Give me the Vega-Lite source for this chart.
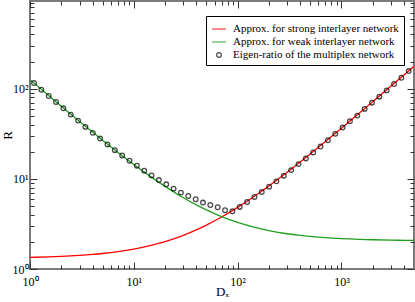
{
  "$schema": "https://vega.github.io/schema/vega-lite/v6.json",
  "autosize": {"type": "none"},
  "width": 384,
  "height": 268,
  "padding": {"left": 30, "top": 1, "right": 1, "bottom": 33},
  "background": "white",
  "config": {
    "view": {"stroke": "#7a7a7a", "strokeWidth": 2},
    "axis": {
      "grid": false,
      "domain": false,
      "labelFont": "Liberation Serif",
      "labelFontSize": 12,
      "labelColor": "black",
      "titleFont": "Liberation Serif",
      "titleFontSize": 13,
      "titleFontWeight": "normal",
      "titleColor": "black",
      "tickColor": "#333333",
      "tickWidth": 1,
      "labelOverlap": false,
      "labelFlush": false
    },
    "legend": {
      "orient": "none",
      "legendX": 176,
      "legendY": 15,
      "title": null,
      "labelFont": "Liberation Serif",
      "labelFontSize": 11,
      "labelColor": "black",
      "labelLimit": 400,
      "strokeColor": "black",
      "fillColor": "white",
      "padding": 5,
      "symbolSize": 196,
      "symbolStrokeWidth": 1.3,
      "labelOffset": 6,
      "rowPadding": 0
    }
  },
  "datasets": {
    "lines": [
      {"D": 1, "R": 1.345, "series": "Approx. for strong interlayer network"},
      {"D": 1.5, "R": 1.363, "series": "Approx. for strong interlayer network"},
      {"D": 2, "R": 1.38, "series": "Approx. for strong interlayer network"},
      {"D": 3, "R": 1.416, "series": "Approx. for strong interlayer network"},
      {"D": 4, "R": 1.451, "series": "Approx. for strong interlayer network"},
      {"D": 5, "R": 1.486, "series": "Approx. for strong interlayer network"},
      {"D": 7, "R": 1.556, "series": "Approx. for strong interlayer network"},
      {"D": 10, "R": 1.662, "series": "Approx. for strong interlayer network"},
      {"D": 15, "R": 1.838, "series": "Approx. for strong interlayer network"},
      {"D": 20, "R": 2.014, "series": "Approx. for strong interlayer network"},
      {"D": 30, "R": 2.366, "series": "Approx. for strong interlayer network"},
      {"D": 40, "R": 2.718, "series": "Approx. for strong interlayer network"},
      {"D": 50, "R": 3.07, "series": "Approx. for strong interlayer network"},
      {"D": 70, "R": 3.774, "series": "Approx. for strong interlayer network"},
      {"D": 100, "R": 4.83, "series": "Approx. for strong interlayer network"},
      {"D": 150, "R": 6.59, "series": "Approx. for strong interlayer network"},
      {"D": 200, "R": 8.35, "series": "Approx. for strong interlayer network"},
      {"D": 300, "R": 11.87, "series": "Approx. for strong interlayer network"},
      {"D": 400, "R": 15.39, "series": "Approx. for strong interlayer network"},
      {"D": 500, "R": 18.91, "series": "Approx. for strong interlayer network"},
      {"D": 700, "R": 25.95, "series": "Approx. for strong interlayer network"},
      {"D": 1000, "R": 36.51, "series": "Approx. for strong interlayer network"},
      {"D": 1500, "R": 54.11, "series": "Approx. for strong interlayer network"},
      {"D": 2000, "R": 71.71, "series": "Approx. for strong interlayer network"},
      {"D": 3000, "R": 106.9, "series": "Approx. for strong interlayer network"},
      {"D": 4000, "R": 142.1, "series": "Approx. for strong interlayer network"},
      {"D": 5000, "R": 177.3, "series": "Approx. for strong interlayer network"},
      {"D": 1, "R": 126.05, "series": "Approx. for weak interlayer network"},
      {"D": 1.5, "R": 84.72, "series": "Approx. for weak interlayer network"},
      {"D": 2, "R": 64.05, "series": "Approx. for weak interlayer network"},
      {"D": 3, "R": 43.38, "series": "Approx. for weak interlayer network"},
      {"D": 4, "R": 33.05, "series": "Approx. for weak interlayer network"},
      {"D": 5, "R": 26.85, "series": "Approx. for weak interlayer network"},
      {"D": 7, "R": 19.76, "series": "Approx. for weak interlayer network"},
      {"D": 10, "R": 14.45, "series": "Approx. for weak interlayer network"},
      {"D": 15, "R": 10.32, "series": "Approx. for weak interlayer network"},
      {"D": 20, "R": 8.25, "series": "Approx. for weak interlayer network"},
      {"D": 30, "R": 6.18, "series": "Approx. for weak interlayer network"},
      {"D": 40, "R": 5.15, "series": "Approx. for weak interlayer network"},
      {"D": 50, "R": 4.53, "series": "Approx. for weak interlayer network"},
      {"D": 70, "R": 3.82, "series": "Approx. for weak interlayer network"},
      {"D": 100, "R": 3.29, "series": "Approx. for weak interlayer network"},
      {"D": 150, "R": 2.88, "series": "Approx. for weak interlayer network"},
      {"D": 200, "R": 2.67, "series": "Approx. for weak interlayer network"},
      {"D": 300, "R": 2.46, "series": "Approx. for weak interlayer network"},
      {"D": 400, "R": 2.36, "series": "Approx. for weak interlayer network"},
      {"D": 500, "R": 2.3, "series": "Approx. for weak interlayer network"},
      {"D": 700, "R": 2.227, "series": "Approx. for weak interlayer network"},
      {"D": 1000, "R": 2.174, "series": "Approx. for weak interlayer network"},
      {"D": 1500, "R": 2.133, "series": "Approx. for weak interlayer network"},
      {"D": 2000, "R": 2.112, "series": "Approx. for weak interlayer network"},
      {"D": 3000, "R": 2.091, "series": "Approx. for weak interlayer network"},
      {"D": 4000, "R": 2.081, "series": "Approx. for weak interlayer network"},
      {"D": 5000, "R": 2.075, "series": "Approx. for weak interlayer network"}
    ],
    "points": [
      {"D": 1.093, "R": 115.6, "series": "Eigen-ratio of the multiplex network"},
      {"D": 1.286, "R": 97.5, "series": "Eigen-ratio of the multiplex network"},
      {"D": 1.514, "R": 83.0, "series": "Eigen-ratio of the multiplex network"},
      {"D": 1.782, "R": 71.3, "series": "Eigen-ratio of the multiplex network"},
      {"D": 2.097, "R": 60.6, "series": "Eigen-ratio of the multiplex network"},
      {"D": 2.469, "R": 51.6, "series": "Eigen-ratio of the multiplex network"},
      {"D": 2.906, "R": 44.3, "series": "Eigen-ratio of the multiplex network"},
      {"D": 3.42, "R": 37.7, "series": "Eigen-ratio of the multiplex network"},
      {"D": 4.025, "R": 32.4, "series": "Eigen-ratio of the multiplex network"},
      {"D": 4.737, "R": 28.0, "series": "Eigen-ratio of the multiplex network"},
      {"D": 5.577, "R": 24.1, "series": "Eigen-ratio of the multiplex network"},
      {"D": 6.564, "R": 20.8, "series": "Eigen-ratio of the multiplex network"},
      {"D": 7.726, "R": 18.2, "series": "Eigen-ratio of the multiplex network"},
      {"D": 9.092, "R": 15.9, "series": "Eigen-ratio of the multiplex network"},
      {"D": 10.7, "R": 14.0, "series": "Eigen-ratio of the multiplex network"},
      {"D": 12.6, "R": 12.32, "series": "Eigen-ratio of the multiplex network"},
      {"D": 14.83, "R": 10.93, "series": "Eigen-ratio of the multiplex network"},
      {"D": 17.45, "R": 9.7, "series": "Eigen-ratio of the multiplex network"},
      {"D": 20.54, "R": 8.7, "series": "Eigen-ratio of the multiplex network"},
      {"D": 24.17, "R": 7.79, "series": "Eigen-ratio of the multiplex network"},
      {"D": 28.44, "R": 7.04, "series": "Eigen-ratio of the multiplex network"},
      {"D": 33.48, "R": 6.45, "series": "Eigen-ratio of the multiplex network"},
      {"D": 39.41, "R": 5.94, "series": "Eigen-ratio of the multiplex network"},
      {"D": 46.39, "R": 5.46, "series": "Eigen-ratio of the multiplex network"},
      {"D": 54.59, "R": 5.13, "series": "Eigen-ratio of the multiplex network"},
      {"D": 64.26, "R": 4.84, "series": "Eigen-ratio of the multiplex network"},
      {"D": 75.63, "R": 4.49, "series": "Eigen-ratio of the multiplex network"},
      {"D": 89.03, "R": 4.37, "series": "Eigen-ratio of the multiplex network"},
      {"D": 104.8, "R": 4.88, "series": "Eigen-ratio of the multiplex network"},
      {"D": 123.3, "R": 5.54, "series": "Eigen-ratio of the multiplex network"},
      {"D": 145.2, "R": 6.29, "series": "Eigen-ratio of the multiplex network"},
      {"D": 170.8, "R": 7.15, "series": "Eigen-ratio of the multiplex network"},
      {"D": 201.1, "R": 8.2, "series": "Eigen-ratio of the multiplex network"},
      {"D": 236.6, "R": 9.38, "series": "Eigen-ratio of the multiplex network"},
      {"D": 278.5, "R": 10.85, "series": "Eigen-ratio of the multiplex network"},
      {"D": 327.9, "R": 12.51, "series": "Eigen-ratio of the multiplex network"},
      {"D": 385.8, "R": 14.57, "series": "Eigen-ratio of the multiplex network"},
      {"D": 454.1, "R": 16.85, "series": "Eigen-ratio of the multiplex network"},
      {"D": 534.6, "R": 19.63, "series": "Eigen-ratio of the multiplex network"},
      {"D": 629.2, "R": 22.87, "series": "Eigen-ratio of the multiplex network"},
      {"D": 740.5, "R": 26.84, "series": "Eigen-ratio of the multiplex network"},
      {"D": 871.6, "R": 31.57, "series": "Eigen-ratio of the multiplex network"},
      {"D": 1026, "R": 37.07, "series": "Eigen-ratio of the multiplex network"},
      {"D": 1207, "R": 43.52, "series": "Eigen-ratio of the multiplex network"},
      {"D": 1421, "R": 50.3, "series": "Eigen-ratio of the multiplex network"},
      {"D": 1673, "R": 59.67, "series": "Eigen-ratio of the multiplex network"},
      {"D": 1969, "R": 70.02, "series": "Eigen-ratio of the multiplex network"},
      {"D": 2317, "R": 81.56, "series": "Eigen-ratio of the multiplex network"},
      {"D": 2727, "R": 95.76, "series": "Eigen-ratio of the multiplex network"},
      {"D": 3210, "R": 112.7, "series": "Eigen-ratio of the multiplex network"},
      {"D": 3778, "R": 132.3, "series": "Eigen-ratio of the multiplex network"},
      {"D": 4447, "R": 156.9, "series": "Eigen-ratio of the multiplex network"}
    ]
  },
  "layer": [
    {
      "data": {"name": "lines"},
      "mark": {"type": "line", "strokeWidth": 1.3, "interpolate": "monotone", "clip": true},
      "encoding": {
        "x": {
          "field": "D", "type": "quantitative",
          "scale": {"type": "log", "domain": [1, 5000], "nice": false},
          "axis": {
            "orient": "bottom",
            "title": "Dₓ",
            "titleY": 26,
            "titleBaseline": "alphabetic",
            "values": [1,2,3,4,5,6,7,8,9,10,20,30,40,50,60,70,80,90,100,200,300,400,500,600,700,800,900,1000,2000,3000,4000],
            "labelExpr": "datum.value == 1 ? '10⁰' : datum.value == 10 ? '10¹' : datum.value == 100 ? '10²' : datum.value == 1000 ? '10³' : ''",
            "tickSize": {"condition": {"test": "datum.value == 1 || datum.value == 10 || datum.value == 100 || datum.value == 1000", "value": -7}, "value": -4},
            "labelPadding": 14
          }
        },
        "y": {
          "field": "R", "type": "quantitative",
          "scale": {"type": "log", "domain": [1, 940], "nice": false},
          "axis": {
            "orient": "left",
            "title": "R",
            "titleX": -23,
            "titleBaseline": "middle",
            "values": [1,2,3,4,5,6,7,8,9,10,20,30,40,50,60,70,80,90,100,200,300,400,500,600,700,800,900],
            "labelExpr": "datum.value == 1 ? '10⁰' : datum.value == 10 ? '10¹' : datum.value == 100 ? '10²' : ''",
            "tickSize": {"condition": {"test": "datum.value == 1 || datum.value == 10 || datum.value == 100", "value": -7}, "value": -4},
            "labelPadding": 9
          }
        },
        "color": {
          "field": "series", "type": "nominal",
          "scale": {
            "domain": ["Approx. for strong interlayer network", "Approx. for weak interlayer network", "Eigen-ratio of the multiplex network"],
            "range": ["#ff0000", "#1f9e1f", "#000000"]
          }
        }
      }
    },
    {
      "data": {"name": "points"},
      "mark": {"type": "point", "filled": false, "size": 196, "strokeWidth": 1.3, "clip": true},
      "encoding": {
        "x": {
          "field": "D", "type": "quantitative",
          "axis": {
            "orient": "top",
            "title": null,
            "labels": false,
            "values": [1,2,3,4,5,6,7,8,9,10,20,30,40,50,60,70,80,90,100,200,300,400,500,600,700,800,900,1000,2000,3000,4000],
            "tickSize": {"condition": {"test": "datum.value == 1 || datum.value == 10 || datum.value == 100 || datum.value == 1000", "value": -7}, "value": -4}
          }
        },
        "y": {
          "field": "R", "type": "quantitative",
          "axis": {
            "orient": "right",
            "title": null,
            "labels": false,
            "values": [1,2,3,4,5,6,7,8,9,10,20,30,40,50,60,70,80,90,100,200,300,400,500,600,700,800,900],
            "tickSize": {"condition": {"test": "datum.value == 1 || datum.value == 10 || datum.value == 100", "value": -7}, "value": -4}
          }
        },
        "color": {"field": "series", "type": "nominal"},
        "shape": {
          "field": "series", "type": "nominal",
          "scale": {
            "domain": ["Approx. for strong interlayer network", "Approx. for weak interlayer network", "Eigen-ratio of the multiplex network"],
            "range": ["stroke", "stroke", "M0.33,0A0.33,0.33 0 1,1 -0.33,0A0.33,0.33 0 1,1 0.33,0Z"]
          }
        }
      }
    }
  ],
  "resolve": {"axis": {"x": "independent", "y": "independent"}}
}
